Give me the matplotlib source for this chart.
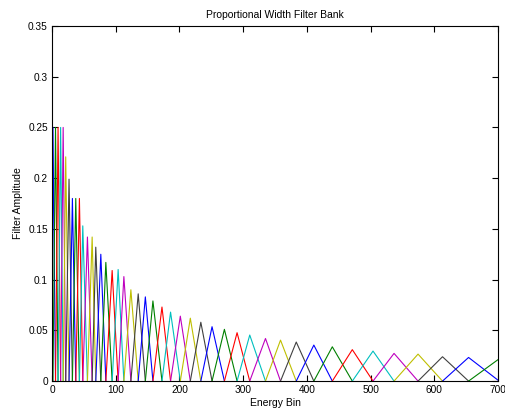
import matplotlib
matplotlib.use("Agg")
import matplotlib.pyplot as plt

# filter centres (energy bin) and peak amplitudes
centers = [1.5, 5.5, 9.5, 13.5, 17.5, 21.5, 26.7, 32.0, 37.3, 43.0,
           48.3, 55.6, 63.0, 68.7, 76.6, 84.5, 94.4, 103.8, 112.8, 123.8,
           135.3, 146.5, 158.4, 172.6, 186.1, 201.4, 217.1, 233.6, 251.2, 270.6,
           290.5, 310.4, 335.1, 358.7, 383.4, 411.0, 440.0, 471.4, 503.9, 536.9,
           574.6, 613.0, 653.9, 702.0]
heights = [0.25, 0.25, 0.25, 0.25, 0.25, 0.221, 0.199, 0.18, 0.18, 0.18,
           0.153, 0.142, 0.142, 0.132, 0.125, 0.117, 0.109, 0.110, 0.103, 0.090,
           0.086, 0.083, 0.079, 0.073, 0.068, 0.064, 0.062, 0.058, 0.0536, 0.051,
           0.0477, 0.0454, 0.042, 0.0404, 0.0385, 0.0355, 0.0338, 0.031, 0.0296, 0.0273,
           0.0266, 0.024, 0.0233, 0.022]
first_lower = 0.0
last_upper = 752.0

# old MATLAB colour order
colors = [(0, 0, 1), (0, 0.5, 0), (1, 0, 0), (0, 0.75, 0.75),
          (0.75, 0, 0.75), (0.75, 0.75, 0), (0.25, 0.25, 0.25)]

plt.rcParams['font.family'] = ['Liberation Sans', 'DejaVu Sans']

fig = plt.figure(figsize=(5.05, 4.12), dpi=100)
ax = fig.add_axes([0.103, 0.075, 0.883, 0.862])

lowers = [first_lower] + centers[:-1]
uppers = centers[1:] + [last_upper]
for i, (lo, c, hi, h) in enumerate(zip(lowers, centers, uppers, heights)):
    ax.plot([lo, c, hi], [0, h, 0], color=colors[i % 7], lw=0.8)

ax.set_xlim(0, 700)
ax.set_ylim(0, 0.35)
ax.set_xticks(range(0, 701, 100))
ax.set_yticks([0, 0.05, 0.1, 0.15, 0.2, 0.25, 0.3, 0.35])
ax.set_yticklabels(['0', '0.05', '0.1', '0.15', '0.2', '0.25', '0.3', '0.35'])
ax.tick_params(direction='in', top=True, right=True, length=4, width=0.8,
               labelsize=7.3, pad=3)
for s in ax.spines.values():
    s.set_linewidth(0.8)

ax.set_title("Proportional Width Filter Bank", fontsize=7.5, pad=6)
ax.set_xlabel("Energy Bin", fontsize=7.5, labelpad=2)
ax.set_ylabel("Filter Amplitude", fontsize=7.5, labelpad=4)

fig.savefig("out.png", dpi=100)
